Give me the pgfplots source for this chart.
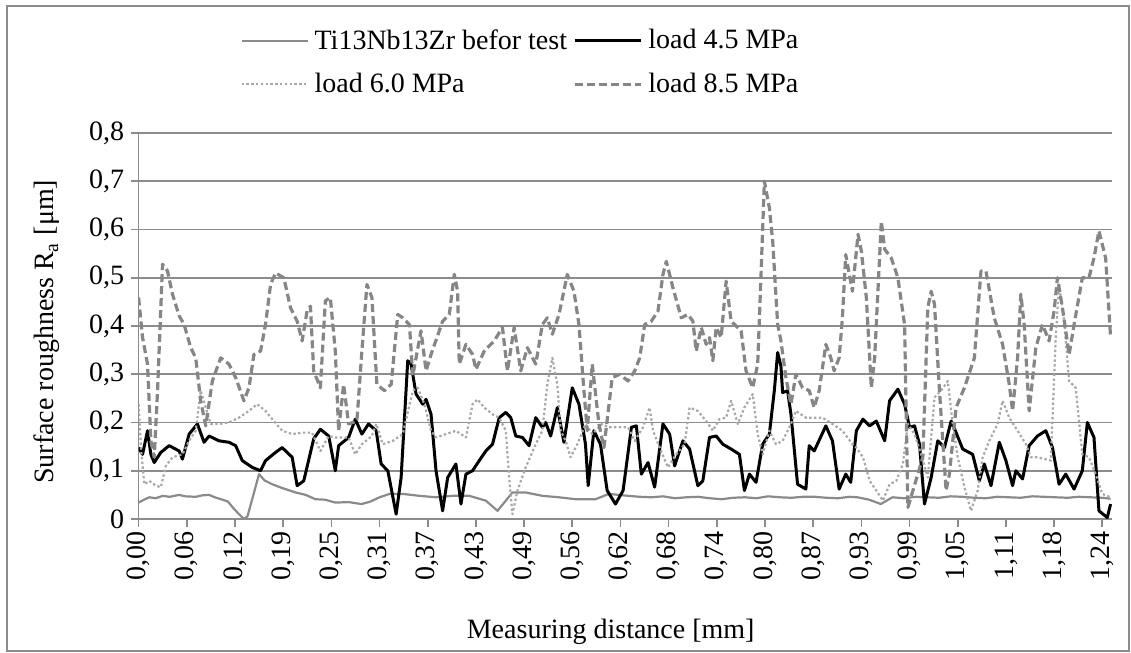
\documentclass[border=0pt]{standalone}
\usepackage{fontspec}
\setmainfont{Liberation Serif}
\usepackage{pgfplots}
\pgfplotsset{compat=1.18}
\definecolor{gridgray}{HTML}{8C8C8C}
\definecolor{tigray}{HTML}{8A8A8A}
\definecolor{dotgray}{HTML}{A8A8A8}
\definecolor{dashgray}{HTML}{868686}
\begin{document}
\begin{tikzpicture}[font=\fontsize{14}{16.8}\selectfont]
\useasboundingbox (-69.3pt,-67pt) rectangle (496.2pt,259.5pt);
\draw[gridgray, line width=1pt] (-65.8pt,-66pt) rectangle (495pt,256.5pt);
\begin{axis}[
  scale only axis,
  width=486.7pt, height=193pt,
  at={(0,0)}, anchor=origin,
  xmin=0, xmax=1.2525,
  ymin=0, ymax=0.8,
  axis x line=bottom, axis y line=left,
  axis line style={-, gridgray, line width=0.8pt},
  ytick={0,0.1,...,0.8},
  ymajorgrids,
  major grid style={gridgray, line width=0.8pt},
  tick align=outside,
  major tick length=4pt,
  tick style={gridgray, line width=0.8pt},
  xtick={0,0.062,0.124,0.186,0.248,0.31,0.372,0.434,0.496,0.558,0.62,0.682,0.744,0.806,0.868,0.93,0.992,1.054,1.116,1.178,1.24},
  xticklabels={{0,00},{0,06},{0,12},{0,19},{0,25},{0,31},{0,37},{0,43},{0,49},{0,56},{0,62},{0,68},{0,74},{0,80},{0,87},{0,93},{0,99},{1,05},{1,11},{1,18},{1,24}},
  xticklabel style={rotate=90, anchor=east, inner sep=2pt},
  yticklabel style={inner sep=3pt},
  /pgf/number format/assume math mode=true,
  /pgf/number format/use comma,
  /pgf/number format/fixed,
  /pgf/number format/precision=1,
  xlabel={Measuring distance [mm]},
  ylabel={Surface roughness R\textsubscript{a} [μm]},
  xlabel style={at={(axis description cs:0.485,-0.2927)}, anchor=center},
  ylabel style={at={(axis description cs:-0.0941,0.485)}, anchor=center},
  legend columns=2,
  legend cell align=left,
  legend image code/.code={\draw[#1] (0pt,0pt) -- (33pt,0pt);},
  legend style={at={(axis description cs:0.098,1.285)}, anchor=north west, draw=none, fill=none,
    font=\fontsize{14}{16.8}\selectfont, column sep=2pt, row sep=8.5pt, nodes={inner sep=1pt}},
  line join=round,
]
\addplot[tigray, line width=1.1pt] coordinates {
(0,.034) (.007,.040) (.0137,.045) (.022,.043) (.031,.048) (.04,.046) (.052,.05) (.06,.047) (.0736,.046) (.082,.049) (.0907,.05) (.098,.045) (.108,.04) (.115,.036) (.1206,.025) (.128,.012) (.1355,.0) (.14,.005) (.146,.04) (.155,.093) (.162,.08) (.172,.072) (.185,.064) (.202,.055) (.215,.05) (.2275,.041) (.24,.04) (.253,.034) (.27,.035) (.287,.031) (.298,.036) (.31,.045) (.3228,.052) (.3399,.052) (.3613,.048) (.3827,.045) (.4041,.048) (.4255,.048) (.4468,.038) (.4618,.017) (.4725,.038) (.481,.055) (.4981,.055) (.5195,.048) (.5409,.045) (.5623,.041) (.588,.041) (.605,.052) (.6179,.05) (.63,.048) (.645,.046) (.66,.045) (.675,.047) (.69,.043) (.705,.045) (.72,.046) (.735,.043) (.75,.041) (.765,.044) (.78,.045) (.795,.043) (.81,.047) (.825,.045) (.84,.044) (.855,.046) (.87,.046) (.885,.044) (.90,.043) (.915,.046) (.925,.045) (.94,.04) (.955,.031) (.97,.045) (.985,.043) (1.0,.046) (1.015,.045) (1.03,.044) (1.045,.047) (1.06,.046) (1.075,.044) (1.09,.043) (1.105,.046) (1.12,.045) (1.135,.044) (1.15,.047) (1.165,.046) (1.18,.045) (1.195,.044) (1.21,.046) (1.225,.045) (1.24,.044) (1.2507,.042)
};
\addlegendentry{Ti13Nb13Zr befor test}
\addplot[black, line width=1.5pt] coordinates {
(0,.148) (.0051,.134) (.0115,.183) (.0158,.134) (.0201,.117) (.0286,.138) (.0393,.152) (.0522,.141) (.0564,.124) (.065,.176) (.0757,.197) (.0842,.159) (.0907,.172) (.1035,.162) (.1163,.159) (.1249,.152) (.1334,.121) (.1462,.107) (.1569,.1) (.1633,.121) (.1762,.138) (.1847,.148) (.1976,.128) (.204,.069) (.2125,.079) (.2253,.166) (.2339,.186) (.2446,.172) (.2531,.1) (.2574,.152) (.2702,.169) (.2788,.207) (.2873,.176) (.2959,.197) (.3057,.183) (.3121,.114) (.3207,.1) (.3314,.01) (.3378,.086) (.3463,.328) (.3506,.321) (.357,.259) (.3656,.238) (.3699,.248) (.3763,.217) (.3827,.1) (.3912,.017) (.3977,.086) (.4083,.114) (.4148,.031) (.4212,.093) (.4297,.1) (.4383,.121) (.4468,.141) (.4554,.155) (.464,.21) (.4725,.221) (.4789,.21) (.4853,.172) (.4939,.169) (.5024,.152) (.511,.21) (.5195,.19) (.5238,.2) (.5302,.172) (.5388,.231) (.5473,.159) (.558,.272) (.5666,.238) (.575,.155) (.5785,.069) (.5858,.183) (.5943,.155) (.6029,.059) (.6136,.031) (.6234,.059) (.6341,.19) (.6405,.193) (.6469,.093) (.6555,.117) (.664,.066) (.6747,.197) (.6833,.176) (.6897,.11) (.7004,.162) (.709,.145) (.7196,.069) (.726,.079) (.7346,.169) (.7432,.172) (.7517,.155) (.7624,.145) (.7731,.134) (.7795,.059) (.786,.093) (.7945,.076) (.803,.155) (.8116,.176) (.818,.266) (.8223,.345) (.8265,.317) (.8287,.262) (.8351,.266) (.8394,.217) (.8479,.072) (.8586,.062) (.8629,.152) (.8693,.141) (.8843,.193) (.8928,.162) (.9014,.062) (.9099,.093) (.9163,.076) (.9236,.183) (.9321,.207) (.9407,.193) (.9492,.203) (.96,.162) (.9663,.245) (.977,.269) (.9856,.238) (.992,.19) (.9984,.193) (1.0048,.155) (1.0112,.031) (1.0198,.086) (1.0283,.162) (1.0369,.148) (1.0455,.203) (1.0519,.179) (1.0604,.145) (1.0732,.134) (1.0818,.079) (1.0882,.114) (1.0968,.069) (1.1075,.159) (1.116,.121) (1.1246,.069) (1.1288,.1) (1.1374,.083) (1.1459,.152) (1.1566,.172) (1.1673,.183) (1.1759,.148) (1.1844,.072) (1.193,.093) (1.2037,.062) (1.2143,.1) (1.2208,.2) (1.2293,.169) (1.2357,.017) (1.2464,.003) (1.2507,.031)
};
\addlegendentry{load 4.5 MPa}
\addplot[dotgray, line width=1.1pt, dash pattern=on 1.2pt off 1.2pt] coordinates {
(0,.238) (.003,.148) (.0073,.072) (.0137,.079) (.0222,.069) (.0286,.066) (.0351,.11) (.0436,.128) (.0564,.134) (.065,.162) (.0735,.183) (.0799,.266) (.0864,.231) (.0928,.197) (.1035,.197) (.1163,.2) (.1291,.21) (.142,.224) (.1526,.238) (.1633,.224) (.1719,.207) (.1847,.183) (.1976,.176) (.2104,.179) (.2232,.179) (.2339,.141) (.2446,.172) (.2531,.169) (.2702,.169) (.2788,.134) (.2873,.155) (.3002,.172) (.3057,.197) (.3142,.155) (.3271,.162) (.3399,.176) (.3528,.266) (.3592,.272) (.3677,.238) (.3763,.183) (.3827,.169) (.3955,.176) (.4083,.183) (.4212,.169) (.4297,.238) (.4361,.248) (.4447,.231) (.4554,.217) (.464,.21) (.4725,.183) (.4768,.086) (.481,.01) (.4875,.059) (.4981,.107) (.511,.155) (.5195,.183) (.5259,.279) (.5324,.334) (.5388,.279) (.5431,.183) (.5495,.162) (.5559,.128) (.5645,.155) (.575,.197) (.5837,.176) (.5965,.197) (.605,.19) (.6191,.19) (.6298,.19) (.6384,.162) (.649,.19) (.6576,.231) (.6619,.183) (.6705,.148) (.6811,.107) (.6918,.134) (.7025,.155) (.709,.231) (.7196,.224) (.7303,.203) (.7389,.183) (.7474,.207) (.756,.21) (.7624,.245) (.771,.197) (.7795,.231) (.7902,.259) (.7966,.176) (.803,.134) (.8116,.183) (.8201,.155) (.8287,.162) (.8394,.197) (.8458,.224) (.8586,.21) (.8714,.21) (.88,.21) (.8928,.197) (.9056,.183) (.9185,.155) (.9236,.148) (.9321,.128) (.9407,.079) (.9492,.059) (.9578,.038) (.9663,.072) (.9749,.079) (.9834,.114) (.9899,.197) (.9984,.176) (1.0069,.134) (1.0155,.086) (1.0241,.252) (1.0326,.266) (1.0412,.286) (1.0476,.197) (1.054,.128) (1.0626,.066) (1.0711,.017) (1.0797,.059) (1.0861,.128) (1.0946,.162) (1.1053,.197) (1.1117,.245) (1.1203,.21) (1.131,.183) (1.1417,.155) (1.1481,.128) (1.1566,.128) (1.1737,.121) (1.1801,.376) (1.1844,.486) (1.1909,.41) (1.1973,.286) (1.2058,.272) (1.2143,.134) (1.2229,.128) (1.2314,.093) (1.24,.052) (1.2507,.045)
};
\addlegendentry{load 6.0 MPa}
\addplot[dashgray, line width=1.6pt, dash pattern=on 4pt off 2pt] coordinates {
(0,.459) (.0051,.376) (.0115,.321) (.0158,.162) (.0201,.128) (.0244,.266) (.0308,.528) (.0372,.514) (.0436,.466) (.0522,.421) (.0586,.403) (.0671,.355) (.0735,.334) (.0799,.245) (.0864,.193) (.0949,.286) (.1056,.334) (.1163,.321) (.1249,.293) (.1355,.245) (.142,.272) (.1484,.341) (.1569,.348) (.1633,.403) (.1698,.486) (.1762,.51) (.1869,.5) (.1954,.438) (.204,.41) (.2104,.369) (.2168,.431) (.2211,.441) (.2253,.307) (.2339,.272) (.2403,.452) (.2467,.459) (.2531,.348) (.2574,.183) (.2638,.279) (.2702,.197) (.2809,.203) (.2873,.348) (.2938,.486) (.3002,.459) (.3066,.279) (.3164,.266) (.325,.279) (.3335,.424) (.3399,.417) (.3485,.403) (.3528,.297) (.3634,.39) (.3699,.307) (.3763,.341) (.3912,.41) (.3998,.424) (.4062,.507) (.4105,.472) (.4126,.321) (.4212,.362) (.4297,.341) (.434,.31) (.4447,.348) (.4575,.369) (.4682,.397) (.4746,.307) (.4832,.397) (.4917,.307) (.5003,.355) (.511,.321) (.5195,.403) (.5259,.417) (.5324,.383) (.541,.424) (.5516,.507) (.5602,.472) (.5666,.403) (.573,.266) (.5773,.183) (.5837,.321) (.5923,.197) (.5987,.148) (.6094,.293) (.6191,.3) (.6298,.286) (.6384,.307) (.6448,.334) (.6512,.403) (.6598,.41) (.6683,.431) (.6747,.507) (.679,.534) (.6876,.479) (.6983,.417) (.7068,.424) (.7132,.41) (.7175,.348) (.724,.397) (.7303,.362) (.7346,.376) (.7389,.328) (.7432,.397) (.7496,.376) (.756,.493) (.7624,.41) (.7753,.39) (.7816,.307) (.7902,.272) (.7966,.321) (.8009,.507) (.8052,.7) (.8116,.645) (.8159,.576) (.8223,.403) (.8265,.369) (.8329,.293) (.8394,.238) (.8458,.3) (.8543,.272) (.8629,.266) (.8693,.231) (.8757,.266) (.8843,.362) (.8907,.334) (.895,.307) (.9014,.334) (.9056,.417) (.9099,.548) (.9185,.472) (.9257,.59) (.93,.555) (.9364,.459) (.9428,.272) (.9471,.334) (.9557,.617) (.96,.559) (.9685,.541) (.977,.5) (.9856,.403) (.9899,.024) (1.0091,.128) (1.0155,.438) (1.0198,.472) (1.0241,.445) (1.0305,.266) (1.039,.059) (1.0433,.093) (1.0519,.231) (1.0626,.272) (1.0754,.334) (1.0839,.514) (1.0903,.514) (1.101,.417) (1.1117,.362) (1.1203,.279) (1.1246,.224) (1.131,.334) (1.1352,.466) (1.1395,.403) (1.1459,.224) (1.1545,.355) (1.163,.403) (1.1716,.369) (1.178,.431) (1.1823,.5) (1.1887,.438) (1.1973,.341) (1.2037,.403) (1.2143,.5) (1.2229,.5) (1.2293,.541) (1.2357,.597) (1.2443,.541) (1.2507,.376)
};
\addlegendentry{load 8.5 MPa}
\end{axis}
\end{tikzpicture}
\end{document}
